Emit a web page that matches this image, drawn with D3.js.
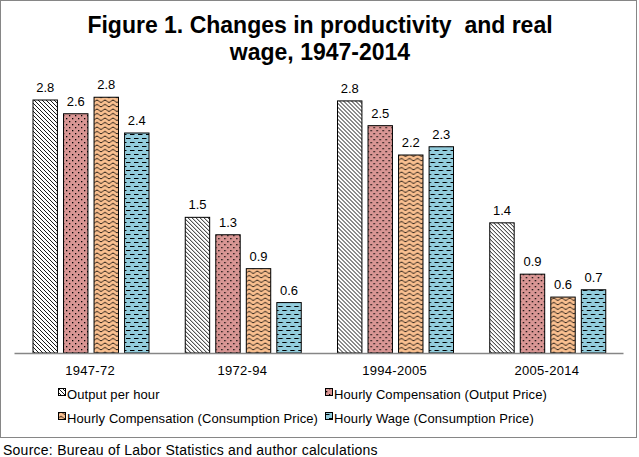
<!DOCTYPE html>
<html>
<head>
<meta charset="utf-8">
<script src="https://cdn.jsdelivr.net/npm/d3@7"></script>
<style>
  body { margin: 0; background: #fff; }
  text { font-family: Arial, "Liberation Sans", sans-serif; }
</style>
</head>
<body>
<svg id="chart" width="639" height="457"></svg>
<script>
const periods = ["1947-72", "1972-94", "1994-2005", "2005-2014"];
const seriesNames = [
    "Output per hour",
    "Hourly Compensation (Output Price)",
    "Hourly Compensation (Consumption Price)",
    "Hourly Wage (Consumption Price)",
];
const outputPerHour = [2.76, 1.48, 2.75, 1.42];
const compOutputPrice = [2.61, 1.29, 2.48, 0.86];
const compConsumptionPrice = [2.79, 0.92, 2.16, 0.61];
const wageConsumptionPrice = [2.4, 0.55, 2.25, 0.69];
const seriesValues = [outputPerHour, compOutputPrice, compConsumptionPrice, wageConsumptionPrice];
const fills = ["#ffffff", "#d99694", "#fac090", "#93cddd"];

const svg = d3.select("#chart");
const defs = svg.append("defs");

// fill patterns like the Excel ones
const pat = (id, w, h, bg) => {
    const p = defs.append("pattern")
        .attr("id", id)
        .attr("patternUnits", "userSpaceOnUse")
        .attr("width", w)
        .attr("height", h);
    p.append("rect").attr("width", w).attr("height", h).attr("fill", bg);
    return p;
};

pat("p0", 4, 4, fills[0])
    .append("path")
    .attr("d", "M-1,-1L5,5M-1,3L1,5M3,-1L5,1")
    .attr("stroke", "#000")
    .attr("stroke-width", 0.9);

const p1 = pat("p1", 6, 6, fills[1]);
p1.append("rect").attr("x", 1).attr("y", 1).attr("width", 1.3).attr("height", 1.3).attr("fill", "#000");
p1.append("rect").attr("x", 4).attr("y", 4).attr("width", 1.3).attr("height", 1.3).attr("fill", "#000");

pat("p2", 8, 4.5, fills[2])
    .append("path")
    .attr("d", "M0,3.2L2,1.2L4,1.2L6,3.2L8,3.2")
    .attr("stroke", "#000")
    .attr("fill", "none")
    .attr("stroke-width", 0.9);

pat("p3", 8, 8, fills[3])
    .append("path")
    .attr("d", "M0,2.5H4.5M4,6.5H8.5M-0.5,6.5H0.5")
    .attr("stroke", "#000")
    .attr("stroke-width", 1.2);

// chart border
svg.append("rect")
    .attr("x", 0.5)
    .attr("y", 0.5)
    .attr("width", 636)
    .attr("height", 437)
    .attr("fill", "none")
    .attr("stroke", "#868686");

// title
const title = svg.append("text")
    .attr("text-anchor", "middle")
    .attr("font-size", 23)
    .attr("font-weight", "bold");
title.append("tspan").attr("x", 320).attr("y", 33).text("Figure 1. Changes in productivity\u00a0 and real");
title.append("tspan").attr("x", 320).attr("y", 60).text("wage, 1947-2014");

const y = d3.scaleLinear().domain([0, 3]).range([353, 78]);
const x0 = d3.scaleBand().domain(periods).range([14, 623]);
const x1 = d3.scaleBand().domain(d3.range(4)).range([19, 135]).paddingInner(0.2);

const groups = svg.append("g")
    .selectAll("g")
    .data(periods)
    .join("g")
    .attr("transform", (d) => `translate(${x0(d)},0)`);

groups.selectAll("rect")
    .data((d, i) => seriesValues.map((s, k) => ({ k: k, v: s[i] })))
    .join("rect")
    .attr("x", (d) => x1(d.k))
    .attr("y", (d) => y(d.v))
    .attr("width", x1.bandwidth())
    .attr("height", (d) => y(0) - y(d.v))
    .attr("fill", (d) => `url(#p${d.k})`)
    .attr("stroke", "#000")
    .attr("stroke-width", 1);

groups.selectAll("text")
    .data((d, i) => seriesValues.map((s, k) => ({ k: k, v: s[i] })))
    .join("text")
    .attr("x", (d) => x1(d.k) + x1.bandwidth() / 2)
    .attr("y", (d) => y(d.v) - 8)
    .attr("text-anchor", "middle")
    .attr("font-size", 13)
    .text((d) => d3.format(".1f")(d.v));

// axis
const xAxis = svg.append("g")
    .attr("transform", `translate(0,${y(0)})`)
    .call(d3.axisBottom(x0).tickSize(0).tickPadding(13));
xAxis.select(".domain").attr("stroke", "#868686").attr("stroke-width", 1.5);
xAxis.selectAll("text")
    .attr("font-size", 13)
    .attr("fill", "#000")
    .attr("letter-spacing", 0.3)
    .attr("font-family", "Arial, 'Liberation Sans', sans-serif");

// legend
const legendPos = [[58, 396], [325, 396], [58, 420], [325, 420]];
const legend = svg.append("g")
    .selectAll("g")
    .data(seriesNames)
    .join("g")
    .attr("transform", (d, i) => `translate(${legendPos[i][0]},${legendPos[i][1]})`);
legend.append("rect")
    .attr("x", 0.5)
    .attr("y", -7.5)
    .attr("width", 7)
    .attr("height", 7)
    .attr("fill", (d, i) => `url(#p${i})`)
    .attr("stroke", "#000");
legend.append("text")
    .attr("x", 9)
    .attr("y", 0)
    .attr("dy", "0.2em")
    .attr("font-size", 13)
    .attr("letter-spacing", 0.1)
    .text((d) => d);

// source note
svg.append("text")
    .attr("x", 3)
    .attr("y", 455)
    .attr("font-size", 14)
    .attr("letter-spacing", 0.25)
    .text("Source: Bureau of Labor Statistics and author calculations");
</script>
</body>
</html>
